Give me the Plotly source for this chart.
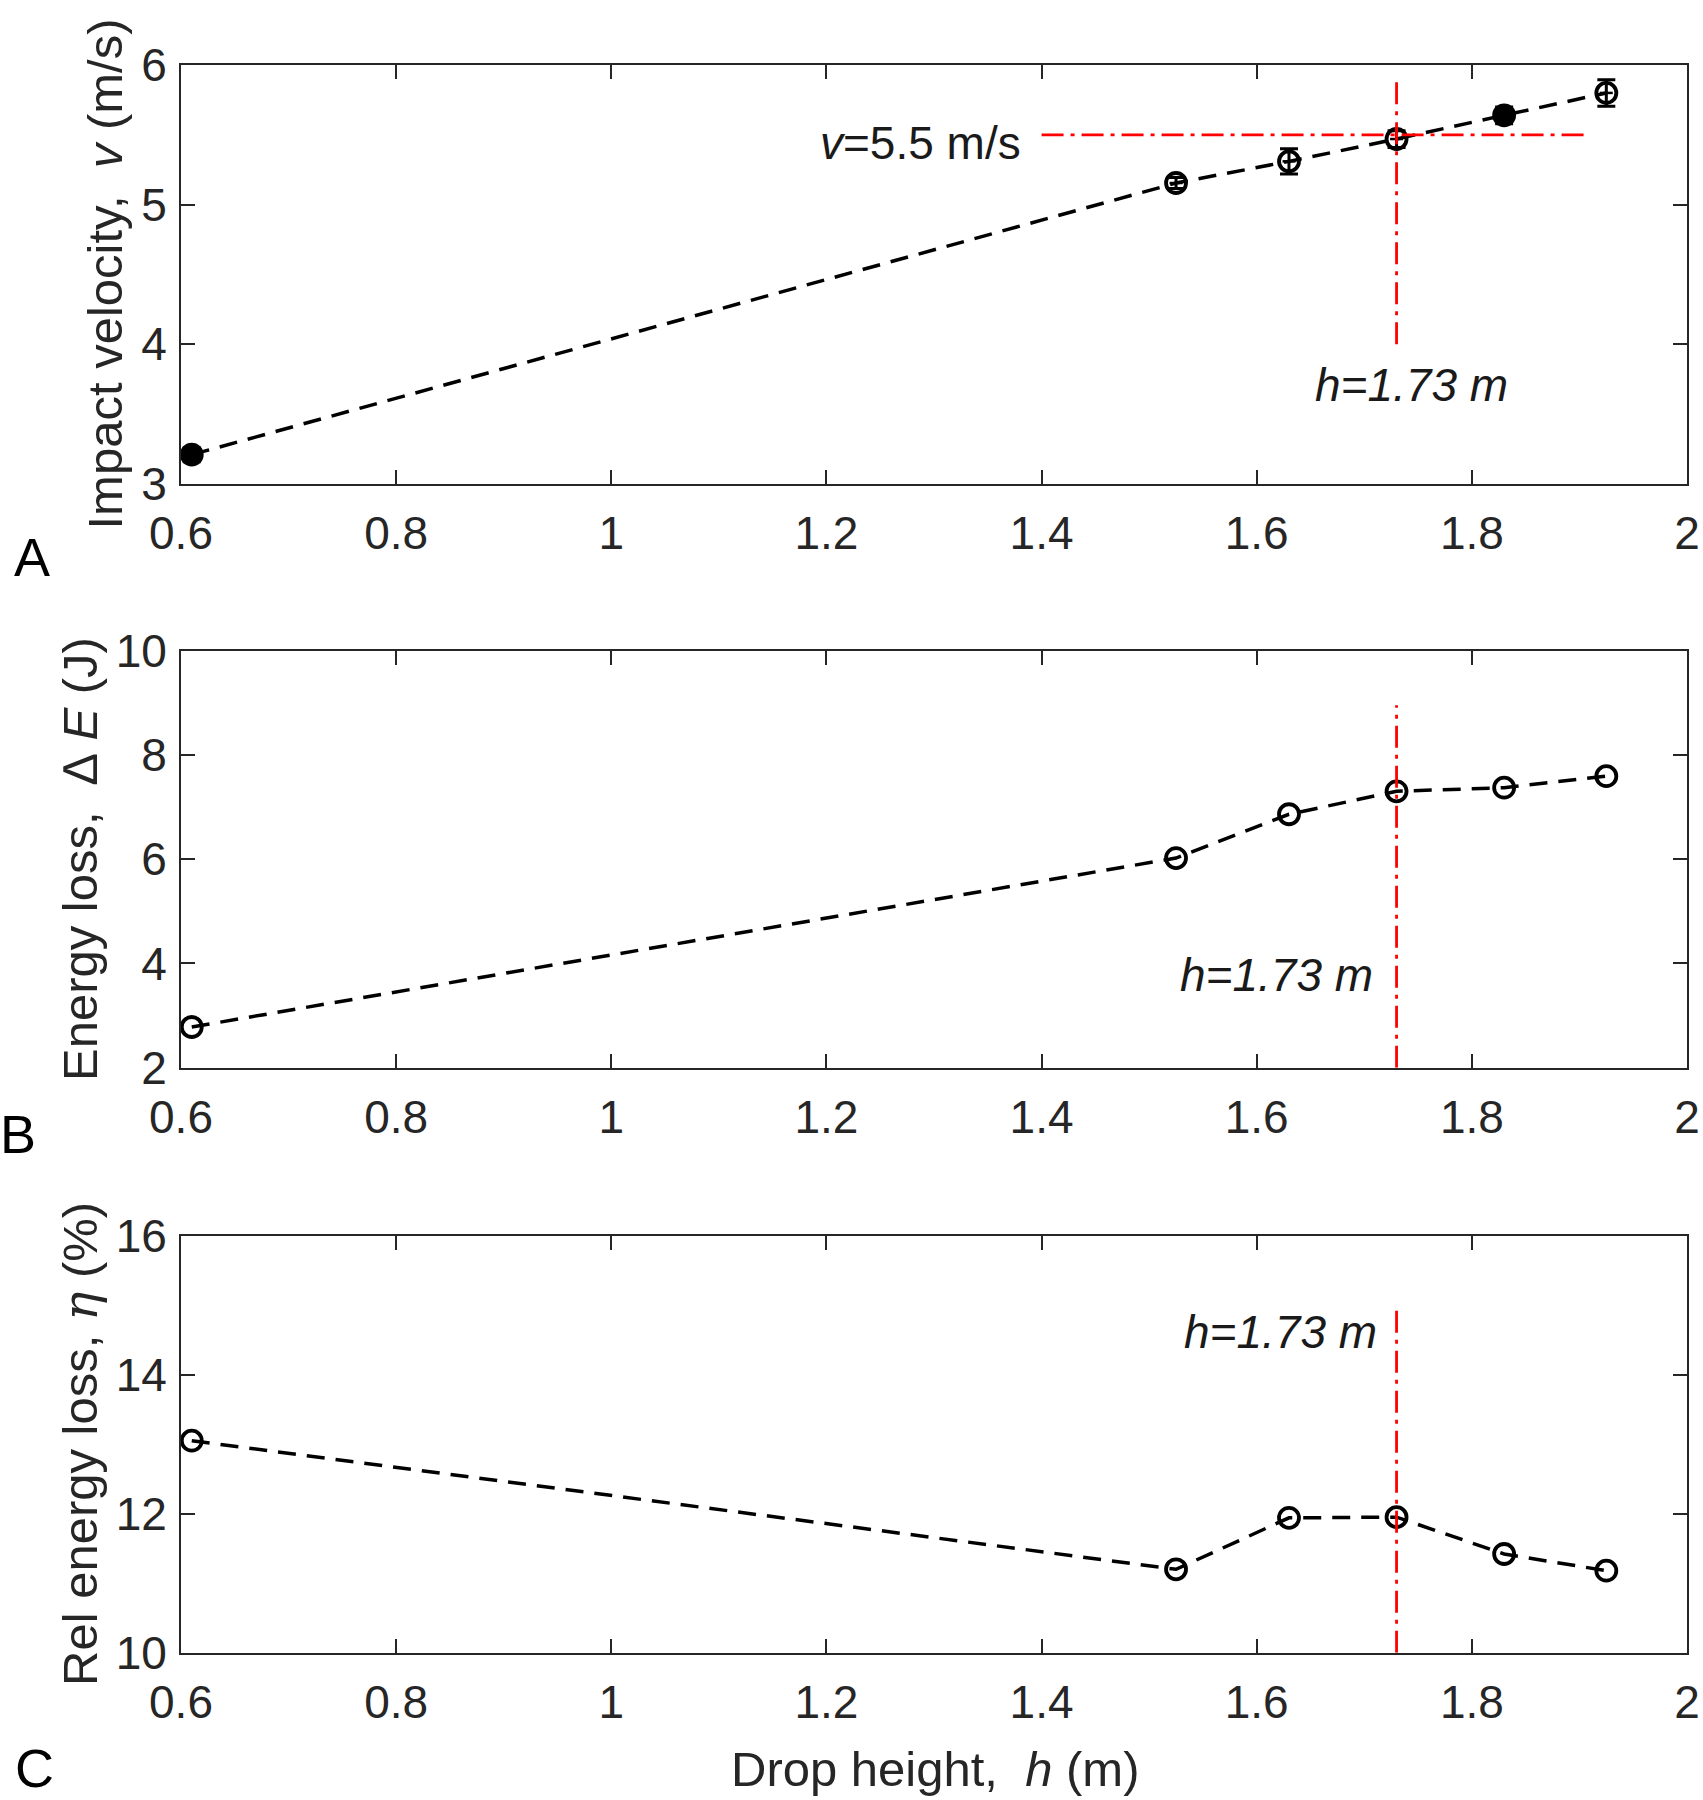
import plotly.graph_objects as go

# ---------------- data ----------------
drop_height = [0.61, 1.525, 1.63, 1.73, 1.83, 1.925]
impact_velocity = [3.21, 5.155, 5.31, 5.47, 5.64, 5.80]
velocity_err = [0.05, 0.04, 0.09, 0.06, 0.06, 0.095]
energy_loss = [2.78, 6.02, 6.86, 7.30, 7.37, 7.59]
rel_energy_loss = [13.05, 11.20, 11.94, 11.95, 11.42, 11.18]

x_ticks = [0.6, 0.8, 1.0, 1.2, 1.4, 1.6, 1.8, 2.0]
x_tick_text = ["0.6", "0.8", "1", "1.2", "1.4", "1.6", "1.8", "2"]
yA_ticks = [3, 4, 5, 6]
yB_ticks = [2, 4, 6, 8, 10]
yC_ticks = [10, 12, 14, 16]

h_ref = 1.73
v_ref = 5.5
v_ref_span = [1.40, 1.905]
hA_span = [4.0, 5.88]
hB_span = [2.0, 8.95]
hC_span = [10.0, 15.0]

FONT = "Arial, Liberation Sans, sans-serif"
AX = "#262626"
W, H = 1703, 1800


def px(xw):
    return xw / W


def py(yw):
    return 1 - yw / H


fig = go.Figure()

line_style = dict(color="black", width=3.5, dash="18px,11px")
red_style = dict(color="#ff0000", width=2.8, dash="22px,7px,4px,7px")

# Panel A
fig.add_trace(go.Scatter(
    x=drop_height, y=impact_velocity, mode="lines+markers",
    line=line_style,
    marker=dict(symbol=["circle", "circle-open", "circle-open", "circle-open", "circle", "circle-open"],
                size=20, color="black", line=dict(color="black", width=3.8)),
    error_y=dict(type="data", array=velocity_err, color="black", thickness=3, width=9),
    error_x=dict(type="constant", value=0.006, color="black", thickness=2.5, width=0),
    xaxis="x", yaxis="y", showlegend=False))
fig.add_trace(go.Scatter(x=v_ref_span, y=[v_ref, v_ref], mode="lines", line=red_style,
                         xaxis="x", yaxis="y", showlegend=False))
fig.add_trace(go.Scatter(x=[h_ref, h_ref], y=hA_span, mode="lines", line=red_style,
                         xaxis="x", yaxis="y", showlegend=False))

# Panel B
fig.add_trace(go.Scatter(
    x=drop_height, y=energy_loss, mode="lines+markers", line=line_style,
    marker=dict(symbol="circle-open", size=20, color="black", line=dict(width=3.8)),
    xaxis="x2", yaxis="y2", showlegend=False))
fig.add_trace(go.Scatter(x=[h_ref, h_ref], y=hB_span, mode="lines", line=red_style,
                         xaxis="x2", yaxis="y2", showlegend=False))

# Panel C
fig.add_trace(go.Scatter(
    x=drop_height, y=rel_energy_loss, mode="lines+markers", line=line_style,
    marker=dict(symbol="circle-open", size=20, color="black", line=dict(width=3.8)),
    xaxis="x3", yaxis="y3", showlegend=False))
fig.add_trace(go.Scatter(x=[h_ref, h_ref], y=hC_span, mode="lines", line=red_style,
                         xaxis="x3", yaxis="y3", showlegend=False))

x_dom = [px(181), px(1687)]
doms = [
    [py(484), py(65)],
    [py(1067.7), py(650.5)],
    [py(1652.7), py(1235.6)],
]


def xaxis_cfg(anchor):
    return dict(domain=x_dom, anchor=anchor, range=[0.6, 2.0], tickvals=x_ticks, ticktext=x_tick_text,
                ticks="inside", ticklen=14, tickwidth=1.5, tickcolor=AX,
                showline=True, linecolor=AX, linewidth=2, mirror="ticks",
                showgrid=False, zeroline=False, automargin=False, ticklabeloverflow="allow",
                tickfont=dict(family=FONT, size=46, color=AX), ticklabelstandoff=8)


def yaxis_cfg(anchor, dom, rng, tv):
    return dict(domain=dom, anchor=anchor, range=rng, tickvals=tv,
                ticks="inside", ticklen=14, tickwidth=1.5, tickcolor=AX,
                showline=True, linecolor=AX, linewidth=2, mirror="ticks",
                showgrid=False, zeroline=False, automargin=False, ticklabeloverflow="allow",
                tickfont=dict(family=FONT, size=46, color=AX), ticklabelstandoff=3)


fig.update_layout(
    width=W, height=H, autosize=False,
    margin=dict(l=0, r=0, t=0, b=0, pad=0),
    paper_bgcolor="white", plot_bgcolor="white",
    font=dict(family=FONT, color=AX),
    xaxis=xaxis_cfg("y"),
    yaxis=yaxis_cfg("x", doms[0], [3, 6], yA_ticks),
    xaxis2=xaxis_cfg("y2"),
    yaxis2=yaxis_cfg("x2", doms[1], [2, 10], yB_ticks),
    xaxis3=xaxis_cfg("y3"),
    yaxis3=yaxis_cfg("x3", doms[2], [10, 16], yC_ticks),
)

ann = []
TXT = "#1a1a1a"
ann.append(dict(x=1.383, y=5.445, xref="x", yref="y", xanchor="right", yanchor="middle",
                text="<i>v</i>=5.5 m/s", showarrow=False, font=dict(family=FONT, size=46, color=TXT)))
ann.append(dict(x=1.744, y=3.71, xref="x", yref="y", xanchor="center", yanchor="middle",
                text="<i>h=1.73 m</i>", showarrow=False, font=dict(family=FONT, size=46, color=TXT)))
ann.append(dict(x=1.710, y=3.78, xref="x2", yref="y2", xanchor="right", yanchor="middle",
                text="<i>h=1.73 m</i>", showarrow=False, font=dict(family=FONT, size=46, color=TXT)))
ann.append(dict(x=1.714, y=14.61, xref="x3", yref="y3", xanchor="right", yanchor="middle",
                text="<i>h=1.73 m</i>", showarrow=False, font=dict(family=FONT, size=46, color=TXT)))

NB = "\u00a0"
ann.append(dict(x=px(105), y=py(274.5), xref="paper", yref="paper", xanchor="center", yanchor="middle",
                textangle=-90, showarrow=False,
                text="Impact velocity," + NB * 2 + "<i>v</i> (m/s)", font=dict(family=FONT, size=49, color=AX)))
ann.append(dict(x=px(80), y=py(859), xref="paper", yref="paper", xanchor="center", yanchor="middle",
                textangle=-90, showarrow=False,
                text="Energy loss," + NB * 2 + "\u2206" + NB + "<i>E</i> (J)", font=dict(family=FONT, size=49, color=AX)))
ann.append(dict(x=px(80), y=py(1444), xref="paper", yref="paper", xanchor="center", yanchor="middle",
                textangle=-90, showarrow=False,
                text="Rel energy loss," + NB + "<span style='font-family:DejaVu Serif'><i>\u03b7</i></span> (%)",
                font=dict(family=FONT, size=49, color=AX)))
ann.append(dict(x=px(935), y=py(1769), xref="paper", yref="paper", xanchor="center", yanchor="middle",
                showarrow=False,
                text="Drop height," + NB * 2 + "<i>h</i> (m)", font=dict(family=FONT, size=49, color=AX)))

for letter, lx, ly in [("A", 32, 557), ("B", 18, 1134), ("C", 34, 1768)]:
    ann.append(dict(x=px(lx), y=py(ly), xref="paper", yref="paper", xanchor="center", yanchor="middle",
                    showarrow=False, text=letter, font=dict(family=FONT, size=54, color="black")))

fig.update_layout(annotations=ann)

fig.write_html("out.html",
               config={"displayModeBar": False},
               post_script="document.body.style.margin='0';document.body.style.padding='0';"
                           "document.body.style.overflow='hidden';")
